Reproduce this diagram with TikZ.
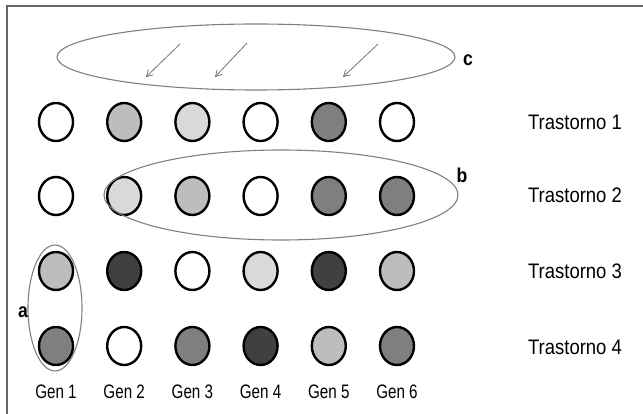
\documentclass[tikz,border=0pt]{standalone}
\usepackage{fontspec}
\setmainfont{Liberation Sans}[FakeStretch=0.88]
\newfontfamily\genfont{Liberation Sans}[FakeStretch=0.78]
\usetikzlibrary{arrows.meta,shapes.geometric}
\definecolor{tonelight}{HTML}{D9D9D9}
\definecolor{tonemid}{HTML}{BDBDBD}
\definecolor{tonedark}{HTML}{7F7F7F}
\definecolor{tonedeep}{HTML}{404040}
\begin{document}
\begin{tikzpicture}[x=1pt,y=-1pt,
  gene/.style={ellipse, draw=black, line width=2.4pt, minimum width=34pt, minimum height=38pt, inner sep=0pt},
  group/.style={draw=black!50, line width=1.1pt},
  tag/.style={font=\bfseries\fontsize{20}{20}\selectfont, inner sep=0pt},
  lbl/.style={font=\genfont\fontsize{19.5}{19.5}\selectfont, inner sep=0pt},
  dis/.style={font=\fontsize{21}{21}\selectfont, inner sep=0pt},
  hint/.style={draw=black!55, line width=0.8pt, -{Straight Barb[length=6pt,width=7pt]}}]
\useasboundingbox (0,0) rectangle (643,414);
\fill[white] (0,0) rectangle (643,414);
% frame
\draw[black!60, line width=1.5pt] (7,414) -- (7,6) -- (643,6);

% gene circles, one row per disorder
\foreach \c [count=\i] in {white,tonemid,tonelight,white,tonedark,white}
  \node[gene, fill=\c] (g1-\i) at ({56+(\i-1)*68.2},122) {};
\foreach \c [count=\i] in {white,tonelight,tonemid,white,tonedark,tonedark}
  \node[gene, fill=\c] (g2-\i) at ({56+(\i-1)*68.2},196) {};
\foreach \c [count=\i] in {tonemid,tonedeep,white,tonelight,tonedeep,tonemid}
  \node[gene, fill=\c] (g3-\i) at ({56+(\i-1)*68.2},271) {};
\foreach \c [count=\i] in {tonedark,white,tonedark,tonedeep,tonemid,tonedark}
  \node[gene, fill=\c] (g4-\i) at ({56+(\i-1)*68.2},346) {};

% gene names
\foreach \i in {1,...,6}
  \node[lbl] (gen-\i) at ({56+(\i-1)*68.2},392) {Gen \i};

% disorder names
\node[dis] (t1) at (575,122) {Trastorno 1};
\node[dis] (t2) at (575,195) {Trastorno 2};
\node[dis] (t3) at (575,271) {Trastorno 3};
\node[dis] (t4) at (575,347) {Trastorno 4};

% groupings
\draw[group] (256,57) ellipse[x radius=199, y radius=33];
\draw[group] (281,195) ellipse[x radius=177, y radius=45];
\draw[group] (55,308) ellipse[x radius=27, y radius=63];

\node[tag] (lc) at (468,60) {c};
\node[tag] (lb) at (462,175) {b};
\node[tag] (la) at (23,312) {a};

% arrows inside c
\coordinate (s1) at (180,44); \coordinate (e1) at (146,77);
\coordinate (s2) at (247,43); \coordinate (e2) at (215,77);
\coordinate (s3) at (378,44); \coordinate (e3) at (343,77);
\draw[hint] (s1) -- (e1);
\draw[hint] (s2) -- (e2);
\draw[hint] (s3) -- (e3);
\end{tikzpicture}
\end{document}
